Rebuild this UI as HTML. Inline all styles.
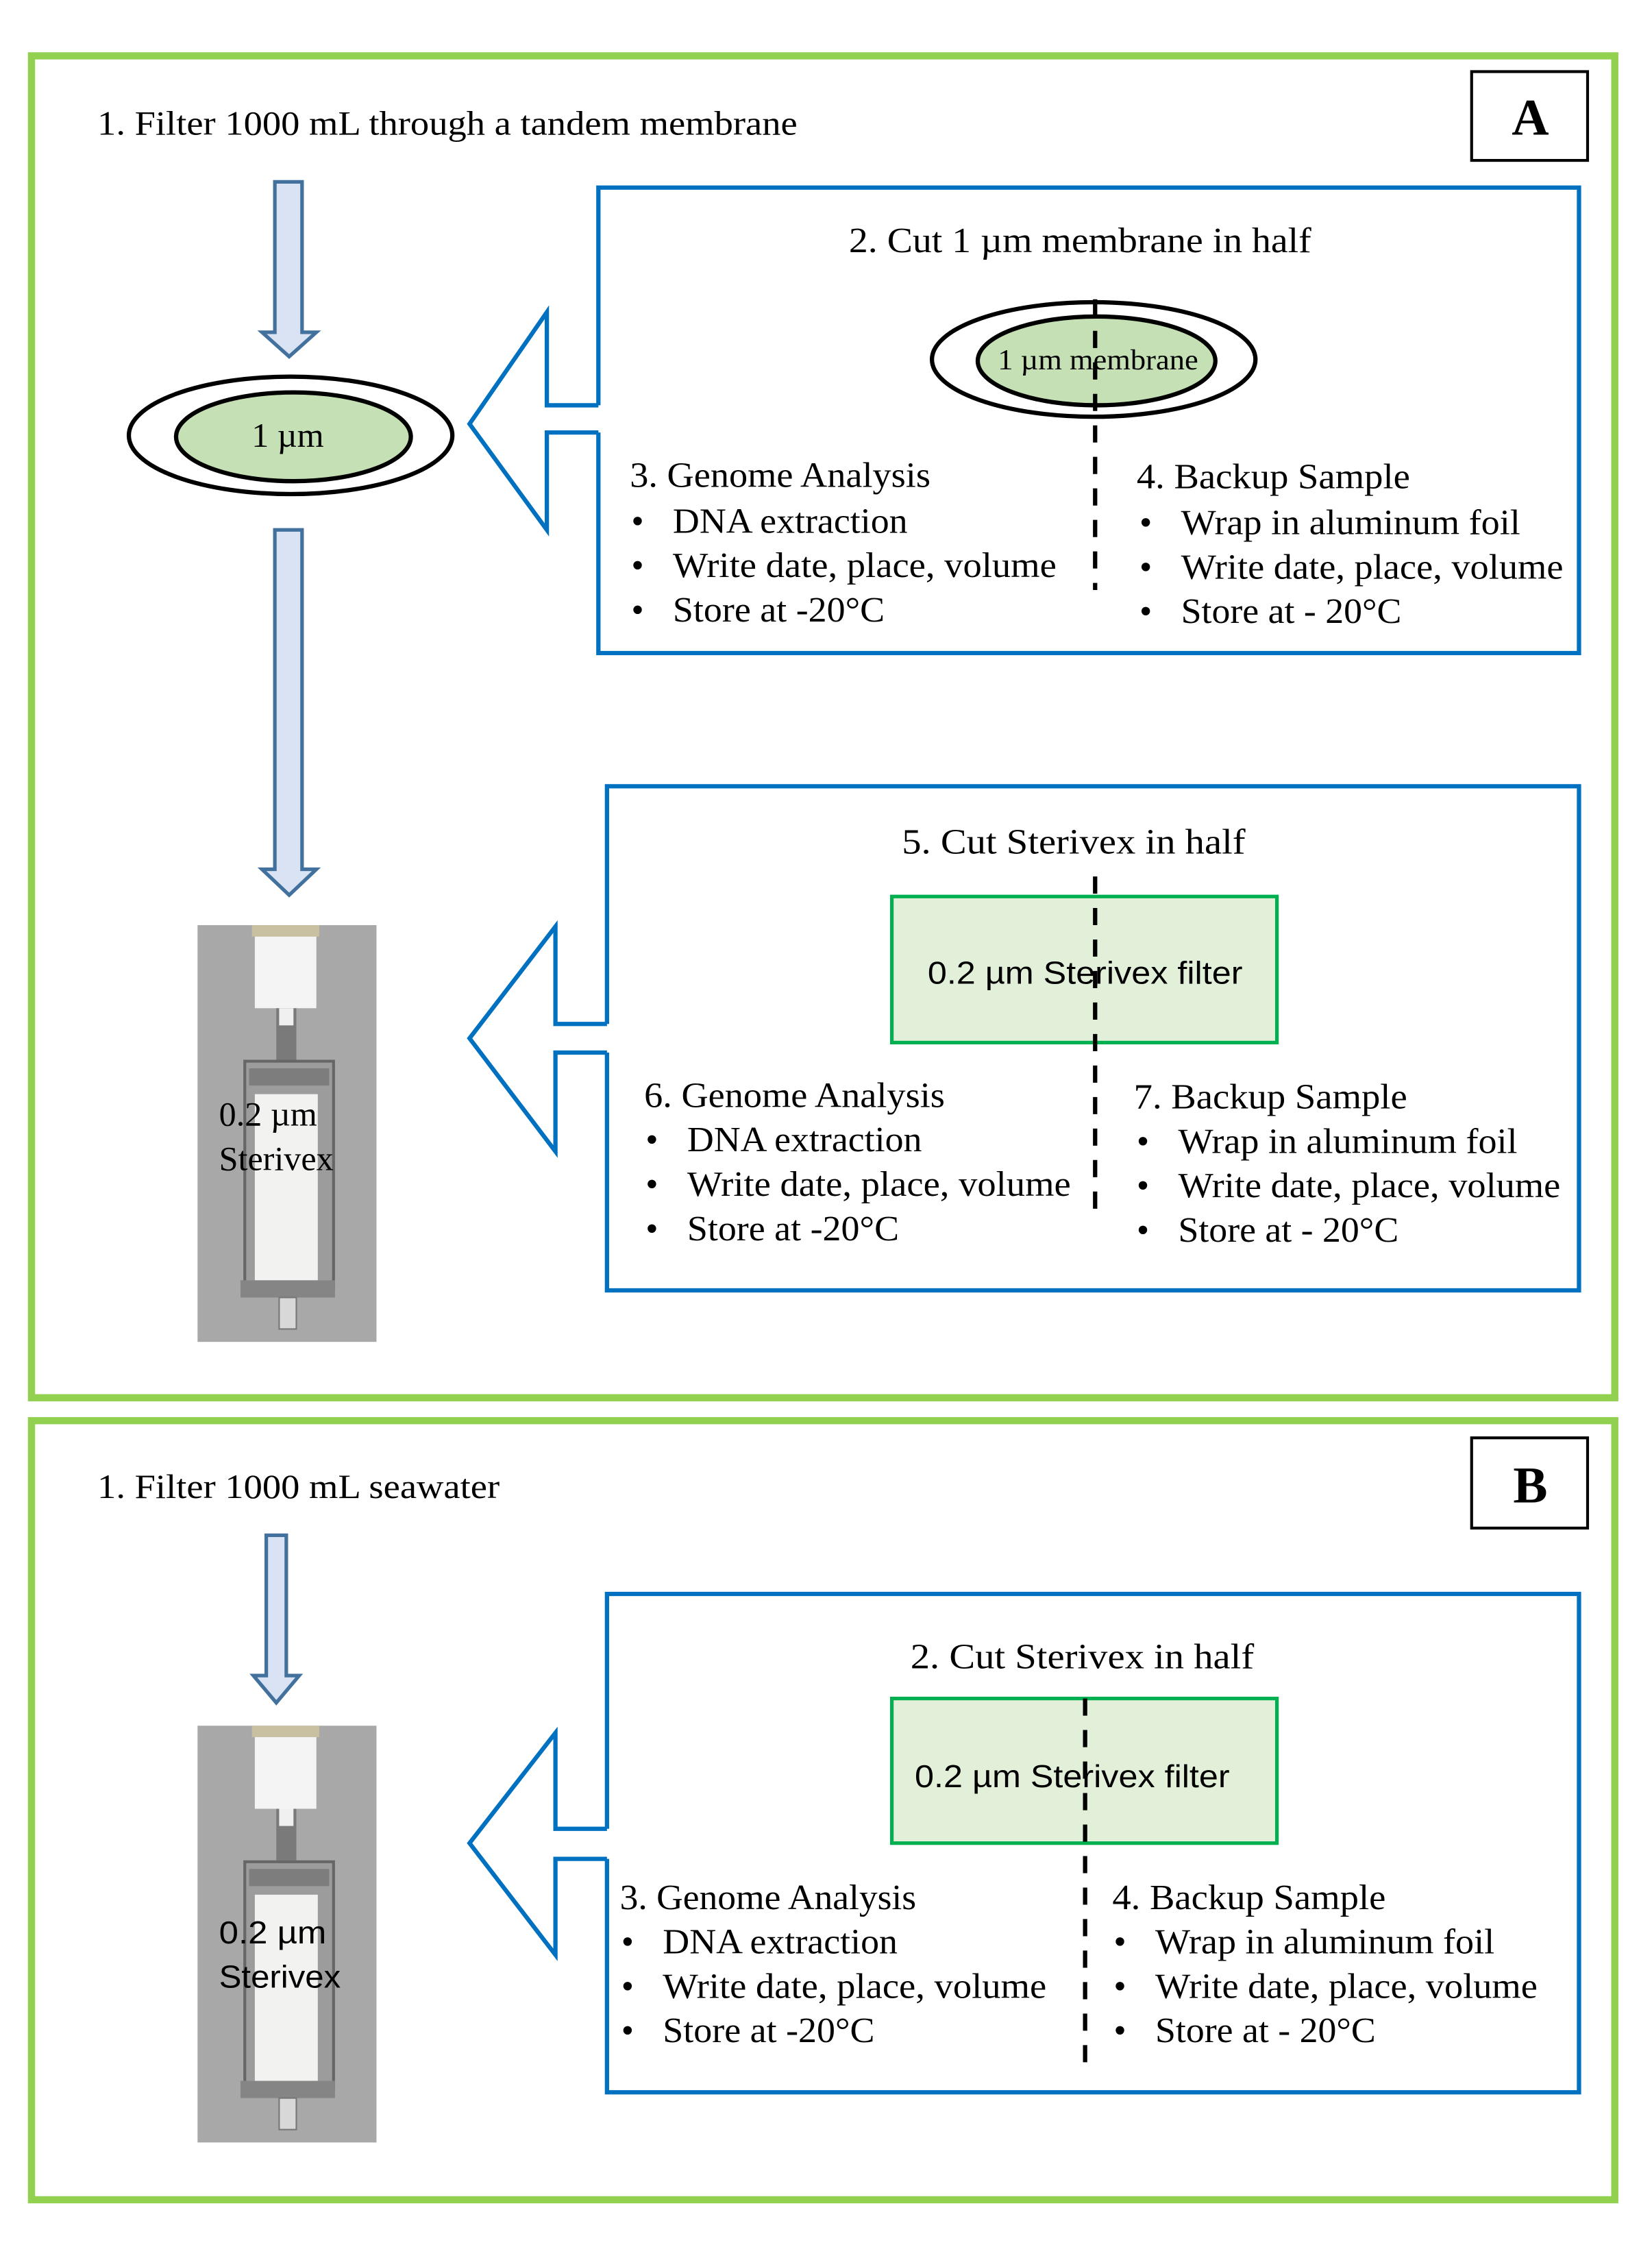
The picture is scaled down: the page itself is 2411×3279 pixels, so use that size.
<!DOCTYPE html>
<html><head><meta charset="utf-8"><style>html,body{margin:0;padding:0;background:#fff}svg{display:block}</style></head>
<body>
<svg width="2411" height="3279" viewBox="0 0 1154 1569" preserveAspectRatio="none" xmlns="http://www.w3.org/2000/svg">
<defs>
<g id="sterivex">
  <rect x="0" y="0" width="125" height="291" fill="#a8a8a8"/>
  <rect x="38" y="0" width="47" height="8" fill="#c8c0a0"/>
  <rect x="40" y="8" width="43" height="50" fill="#f4f4f4"/>
  <rect x="55" y="58" width="14" height="36" fill="#7a7a7a"/>
  <rect x="57" y="58" width="10" height="12" fill="#f0f0f0"/>
  <rect x="33" y="95" width="62" height="160" fill="#9c9c9c" stroke="#666" stroke-width="2"/>
  <rect x="36" y="100" width="56" height="12" fill="#7d7d7d"/>
  <rect x="40" y="118" width="44" height="130" fill="#f2f2f0"/>
  <rect x="30" y="248" width="66" height="12" fill="#858585"/>
  <rect x="57" y="260" width="12" height="22" fill="#d8d8d8" stroke="#777" stroke-width="1"/>
</g>
</defs>
<g fill="none" stroke="#92d050" stroke-width="5">
<rect x="22" y="39" width="1106" height="937"/>
<rect x="22" y="992" width="1106" height="544"/>
</g>
<rect x="1028" y="50" width="81" height="62" fill="none" stroke="#000" stroke-width="2"/>
<rect x="1028" y="1004" width="81" height="63" fill="none" stroke="#000" stroke-width="2"/>
<g font-family="Liberation Serif, serif" fill="#000">
<text x="1069" y="94" font-size="36" font-weight="bold" text-anchor="middle">A</text>
<text x="1069" y="1049" font-size="36" font-weight="bold" text-anchor="middle">B</text>
<text x="68" y="94" font-size="24" textLength="489" lengthAdjust="spacingAndGlyphs">1. Filter 1000 mL through a tandem membrane</text>
<text x="68" y="1046" font-size="24" textLength="281" lengthAdjust="spacingAndGlyphs">1. Filter 1000 mL seawater</text>
</g>
<!-- down arrows -->
<g fill="#dae3f3" stroke="#41719c" stroke-width="2.5">
<polygon points="192,127 211,127 211,232 221,232 202,249 183,232 192,232"/>
<polygon points="192,370 211,370 211,607 221,607 202,625 183,607 192,607"/>
<polygon points="186,1072 200,1072 200,1170 209,1170 193,1189 177,1170 186,1170"/>
</g>
<!-- ellipse A left -->
<ellipse cx="203" cy="304" rx="113" ry="41" fill="#fff" stroke="#000" stroke-width="3"/>
<ellipse cx="205" cy="305" rx="82" ry="31" fill="#c5e0b4" stroke="#000" stroke-width="3"/>
<text x="201" y="312" font-family="Liberation Serif, serif" font-size="24" text-anchor="middle">1 µm</text>
<!-- sterivex photos -->
<use href="#sterivex" x="138" y="646"/>
<use href="#sterivex" x="138" y="1205"/>
<g font-family="Liberation Serif, serif" font-size="24">
<text x="153" y="786">0.2 µm</text><text x="153" y="817">Sterivex</text>
</g>
<g font-family="Liberation Sans, sans-serif" font-size="22">
<text x="153" y="1357" textLength="75" lengthAdjust="spacingAndGlyphs">0.2 µm</text><text x="153" y="1388" textLength="85" lengthAdjust="spacingAndGlyphs">Sterivex</text>
</g>
<!-- blue boxes with arrows -->
<g fill="none" stroke="#0070c0" stroke-width="3">
<polyline points="418,283 418,131 1103,131 1103,456 418,456 418,302"/>
<polyline points="418,283 382,283 382,218 328,296 382,370 382,302 418,302"/>
<polyline points="424,715 424,549 1103,549 1103,901 424,901 424,735"/>
<polyline points="424,715 388,715 388,647 328,725 388,804 388,735 424,735"/>
<polyline points="424,1277 424,1113 1103,1113 1103,1461 424,1461 424,1298"/>
<polyline points="424,1277 388,1277 388,1210 328,1287 388,1365 388,1298 424,1298"/>
</g>
<!-- box1 content -->
<ellipse cx="764" cy="251" rx="113" ry="40" fill="#fff" stroke="#000" stroke-width="3"/>
<ellipse cx="766" cy="252" rx="83" ry="31" fill="#c5e0b4" stroke="#000" stroke-width="3"/>
<text x="767" y="258" font-family="Liberation Serif, serif" font-size="20" text-anchor="middle" textLength="140" lengthAdjust="spacingAndGlyphs">1 µm membrane</text>
<line x1="765" y1="209" x2="765" y2="412" stroke="#000" stroke-width="3" stroke-dasharray="12,10"/>
<!-- box2 -->
<rect x="623" y="626" width="269" height="102" fill="#e2f0d9" stroke="#00b050" stroke-width="2.5"/>
<text x="758" y="687" font-family="Liberation Sans, sans-serif" font-size="22" text-anchor="middle" textLength="220" lengthAdjust="spacingAndGlyphs">0.2 µm Sterivex filter</text>
<line x1="765" y1="612" x2="765" y2="850" stroke="#000" stroke-width="3" stroke-dasharray="12,10"/>
<!-- box3 -->
<rect x="623" y="1186" width="269" height="101" fill="#e2f0d9" stroke="#00b050" stroke-width="2.5"/>
<text x="749" y="1248" font-family="Liberation Sans, sans-serif" font-size="22" text-anchor="middle" textLength="220" lengthAdjust="spacingAndGlyphs">0.2 µm Sterivex filter</text>
<line x1="758" y1="1186" x2="758" y2="1446" stroke="#000" stroke-width="3" stroke-dasharray="12,10"/>
<g font-family="Liberation Serif, serif" font-size="25" fill="#000">
<text x="593" y="176" textLength="323" lengthAdjust="spacingAndGlyphs">2.  Cut 1 µm membrane in half</text>
<text x="440" y="340" textLength="210" lengthAdjust="spacingAndGlyphs">3. Genome Analysis</text>
<text x="441" y="372">•</text><text x="470" y="372" textLength="164" lengthAdjust="spacingAndGlyphs">DNA extraction</text>
<text x="441" y="403">•</text><text x="470" y="403" textLength="268" lengthAdjust="spacingAndGlyphs">Write date, place, volume</text>
<text x="441" y="434">•</text><text x="470" y="434" textLength="148" lengthAdjust="spacingAndGlyphs">Store at -20°C</text>
<text x="794" y="341" textLength="191" lengthAdjust="spacingAndGlyphs">4. Backup Sample</text>
<text x="796" y="373">•</text><text x="825" y="373" textLength="237" lengthAdjust="spacingAndGlyphs">Wrap in aluminum foil</text>
<text x="796" y="404">•</text><text x="825" y="404" textLength="267" lengthAdjust="spacingAndGlyphs">Write date, place, volume</text>
<text x="796" y="435">•</text><text x="825" y="435" textLength="154" lengthAdjust="spacingAndGlyphs">Store at - 20°C</text>

<text x="630" y="596" textLength="240" lengthAdjust="spacingAndGlyphs">5.  Cut Sterivex in half</text>
<text x="450" y="773" textLength="210" lengthAdjust="spacingAndGlyphs">6. Genome Analysis</text>
<text x="451" y="804">•</text><text x="480" y="804" textLength="164" lengthAdjust="spacingAndGlyphs">DNA extraction</text>
<text x="451" y="835">•</text><text x="480" y="835" textLength="268" lengthAdjust="spacingAndGlyphs">Write date, place, volume</text>
<text x="451" y="866">•</text><text x="480" y="866" textLength="148" lengthAdjust="spacingAndGlyphs">Store at -20°C</text>
<text x="792" y="774" textLength="191" lengthAdjust="spacingAndGlyphs">7. Backup Sample</text>
<text x="794" y="805">•</text><text x="823" y="805" textLength="237" lengthAdjust="spacingAndGlyphs">Wrap in aluminum foil</text>
<text x="794" y="836">•</text><text x="823" y="836" textLength="267" lengthAdjust="spacingAndGlyphs">Write date, place, volume</text>
<text x="794" y="867">•</text><text x="823" y="867" textLength="154" lengthAdjust="spacingAndGlyphs">Store at - 20°C</text>

<text x="636" y="1165" textLength="240" lengthAdjust="spacingAndGlyphs">2.  Cut Sterivex in half</text>
<text x="433" y="1333" textLength="207" lengthAdjust="spacingAndGlyphs">3. Genome Analysis</text>
<text x="434" y="1364">•</text><text x="463" y="1364" textLength="164" lengthAdjust="spacingAndGlyphs">DNA extraction</text>
<text x="434" y="1395">•</text><text x="463" y="1395" textLength="268" lengthAdjust="spacingAndGlyphs">Write date, place, volume</text>
<text x="434" y="1426">•</text><text x="463" y="1426" textLength="148" lengthAdjust="spacingAndGlyphs">Store at -20°C</text>
<text x="777" y="1333" textLength="191" lengthAdjust="spacingAndGlyphs">4. Backup Sample</text>
<text x="778" y="1364">•</text><text x="807" y="1364" textLength="237" lengthAdjust="spacingAndGlyphs">Wrap in aluminum foil</text>
<text x="778" y="1395">•</text><text x="807" y="1395" textLength="267" lengthAdjust="spacingAndGlyphs">Write date, place, volume</text>
<text x="778" y="1426">•</text><text x="807" y="1426" textLength="154" lengthAdjust="spacingAndGlyphs">Store at - 20°C</text>
</g>
</svg>
</body></html>
